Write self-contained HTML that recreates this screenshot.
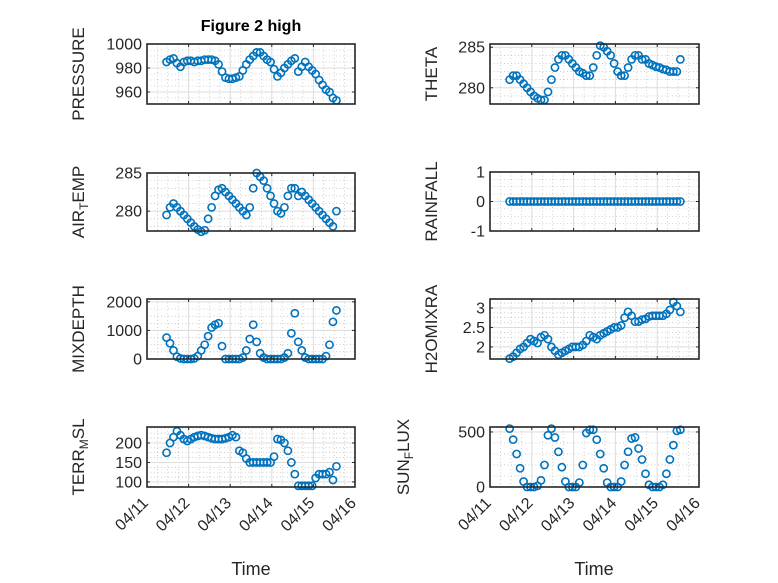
<!DOCTYPE html>
<html><head><meta charset="utf-8"><style>
body{margin:0;background:#fff;}
svg{display:block;font-family:"Liberation Sans",sans-serif;}
</style></head><body>
<svg id="fig" width="778" height="583" viewBox="0 0 778 583" xmlns="http://www.w3.org/2000/svg">
<rect width="778" height="583" fill="#fff"/>
<text x="251" y="31" text-anchor="middle" font-size="16" font-weight="bold" fill="#000">Figure 2 high</text>
<text x="251" y="575" text-anchor="middle" font-size="18" fill="#262626">Time</text>
<text x="594" y="575" text-anchor="middle" font-size="18" fill="#262626">Time</text>
</svg>
<script>
const xTickLabels = ["04/11","04/12","04/13","04/14","04/15","04/16"];
const tStart = 0.47, tStep = 1/12;
const pressure = [985,987,988,984,981,985,986,986,985,986,986,987,987,987,986,983,977,972,971,971,972,973,978,983,987,990,993,993,990,987,985,979,973,976,980,983,986,988,977,981,985,981,978,975,970,966,962,960,955,953];
const airTemp = [279.5,280.5,281,280.5,280,279.5,279,278.5,278,277.6,277.3,277.5,279,280.5,282,282.8,283,282.5,282,281.5,281,280.5,280,279.5,280.5,283,285,284.5,284,283,282,281,280,279.7,280.5,282,283,283,282,282.5,282,281.5,281,280.5,280,279.5,279,278.5,278,280];
const mixDepth = [750,550,300,80,20,0,0,0,20,100,300,500,800,1100,1200,1250,450,0,0,0,0,0,50,300,700,1200,600,200,50,0,0,0,0,0,50,200,900,1600,600,300,50,0,0,0,0,0,100,500,1300,1700];
const terrMsl = [175,200,215,230,220,210,205,210,215,218,220,218,215,212,210,210,210,212,215,220,215,180,175,160,150,150,150,150,150,150,150,165,210,208,200,180,150,120,90,90,90,90,90,110,120,120,120,125,105,140];
const theta = [281,281.5,281.5,281,280.5,280,279.5,279,278.7,278.5,278.5,279.5,281,282.5,283.5,284,284,283.5,283,282.5,282,281.8,281.5,281.5,282.5,284,285.2,285,284.5,284,283,282,281.5,281.5,282.5,283.5,284,284,283.5,283.5,283,282.8,282.6,282.5,282.3,282.2,282,282,282,283.5];
const rainfall = [0,0,0,0,0,0,0,0,0,0,0,0,0,0,0,0,0,0,0,0,0,0,0,0,0,0,0,0,0,0,0,0,0,0,0,0,0,0,0,0,0,0,0,0,0,0,0,0,0,0];
const h2oMix = [1.7,1.75,1.85,1.95,2.0,2.1,2.2,2.15,2.1,2.25,2.3,2.2,2.0,1.9,1.8,1.85,1.9,1.95,2.0,2.0,2.0,2.05,2.15,2.3,2.25,2.2,2.3,2.35,2.4,2.45,2.5,2.5,2.55,2.75,2.9,2.8,2.65,2.65,2.7,2.72,2.78,2.8,2.8,2.8,2.8,2.85,2.95,3.15,3.05,2.9];
const sunFlux = [530,430,300,170,50,0,0,0,10,60,200,470,530,450,320,180,50,0,0,0,40,200,490,520,520,430,300,170,40,0,0,0,50,200,320,440,450,350,250,120,20,0,0,0,20,120,250,380,510,520];
const pressureTicks = [960,980,1000];
const airTempTicks = [280,285];
const mixDepthTicks = [0,1000,2000];
const terrTicks = [100,150,200];
const thetaTicks = [280,285];
const rainTicks = [-1,0,1];
const h2oTicks = [2,2.5,3];
const sunTicks = [0,500];

const NS="http://www.w3.org/2000/svg";
const svg=document.getElementById('fig');
function mk(tag,attrs,parent){const e=document.createElementNS(NS,tag);for(const k in attrs)e.setAttribute(k,attrs[k]);(parent||svg).appendChild(e);return e;}

function panel(id,x0,x1,y0,y1,ymin,ymax,yticks,yminor,vals,label,sub,labelX,showX){
  const g=mk('g',{});
  
  
  const sx=t=>x0+(x1-x0)*t/5;
  const sy=v=>y1-(y1-y0)*(v-ymin)/(ymax-ymin);
  mk('rect',{x:x0,y:y0,width:x1-x0,height:y1-y0,fill:'#fff'},g);
  for(let i=0;i<=20;i++){if(i%4===0)continue;const x=sx(i/4);
    mk('line',{x1:x,x2:x,y1:y0,y2:y1,stroke:'#b0b0b0','stroke-width':0.6,'stroke-dasharray':'1,2.5'},g);}
  for(let v=Math.ceil(ymin/yminor)*yminor;v<=ymax+1e-9;v+=yminor){
    if(yticks.some(t=>Math.abs(t-v)<1e-9))continue;const y=sy(v);
    mk('line',{x1:x0,x2:x1,y1:y,y2:y,stroke:'#b0b0b0','stroke-width':0.6,'stroke-dasharray':'1,2.5'},g);}
  for(let i=1;i<5;i++){const x=sx(i);mk('line',{x1:x,x2:x,y1:y0,y2:y1,stroke:'#dcdcdc','stroke-width':1},g);}
  yticks.forEach(v=>{const y=sy(v);mk('line',{x1:x0,x2:x1,y1:y,y2:y,stroke:'#dcdcdc','stroke-width':1},g);});
  const dg=mk('g',{},g);
  
  
  vals.forEach((v,k)=>{const c=mk('circle',{cx:sx(tStart+k*tStep),cy:sy(v),r:3.6,fill:'none',stroke:'#0072BD','stroke-width':1.6},dg);
    
    });
  const b=mk('rect',{x:x0,y:y0,width:x1-x0,height:y1-y0,fill:'none',stroke:'#262626','stroke-width':1.6},g);
  
  
  for(let i=0;i<=5;i++){const x=sx(i);
    mk('line',{x1:x,x2:x,y1:y1,y2:y1-3,stroke:'#262626'},g);mk('line',{x1:x,x2:x,y1:y0,y2:y0+3,stroke:'#262626'},g);
    if(showX){const ax=x+2, ay=y1+17;
      const tx=mk('text',{x:ax,y:ay,'text-anchor':'end','font-size':16,fill:'#262626',transform:`rotate(-45 ${ax} ${ay})`},g);
      tx.textContent=xTickLabels[i];
      
      }
  }
  yticks.forEach(v=>{const y=sy(v);
    mk('line',{x1:x0,x2:x0+3,y1:y,y2:y,stroke:'#262626'},g);mk('line',{x1:x1,x2:x1-3,y1:y,y2:y,stroke:'#262626'},g);
    const tx=mk('text',{x:x0-5,y:y+5.5,'text-anchor':'end','font-size':16,fill:'#262626'},g);
    tx.textContent=String(v);
    
    });
  const cy=(y0+y1)/2;
  const lt=mk('text',{x:labelX,y:cy,'text-anchor':'middle','font-size':17,fill:'#262626',transform:`rotate(-90 ${labelX} ${cy})`},g);
  
  
  if(sub){const a=mk('tspan',{},lt);a.textContent=label[0];
    const s=mk('tspan',{'font-size':12,dy:4},lt);s.textContent=sub;
    const c=mk('tspan',{dy:-4},lt);c.textContent=label[1];}
  else lt.textContent=label;
}
panel('pressure',147,355,44,104,950,1000,pressureTicks,5,pressure,'PRESSURE',null,84,false);
panel('air-temp',147,355,173,231,277.4,285,airTempTicks,1,airTemp,['AIR','EMP'],'T',84,false);
panel('mixdepth',147,355,299,359,0,2100,mixDepthTicks,250,mixDepth,'MIXDEPTH',null,84,false);
panel('terr-msl',147,355,427,487,87,241,terrTicks,12.5,terrMsl,['TERR','SL'],'M',84,true);
panel('theta',490,699,44,104,278,285.4,thetaTicks,1,theta,'THETA',null,437,false);
panel('rainfall',490,699,172,231,-1,1,rainTicks,0.25,rainfall,'RAINFALL',null,437,false);
panel('h2omix',490,699,299,359,1.69,3.23,h2oTicks,0.125,h2oMix,'H2OMIXRA',null,437,false);
panel('sunflux',490,699,427,487,0,545,sunTicks,100,sunFlux,['SUN','LUX'],'F',409,true);
</script>
</body></html>
